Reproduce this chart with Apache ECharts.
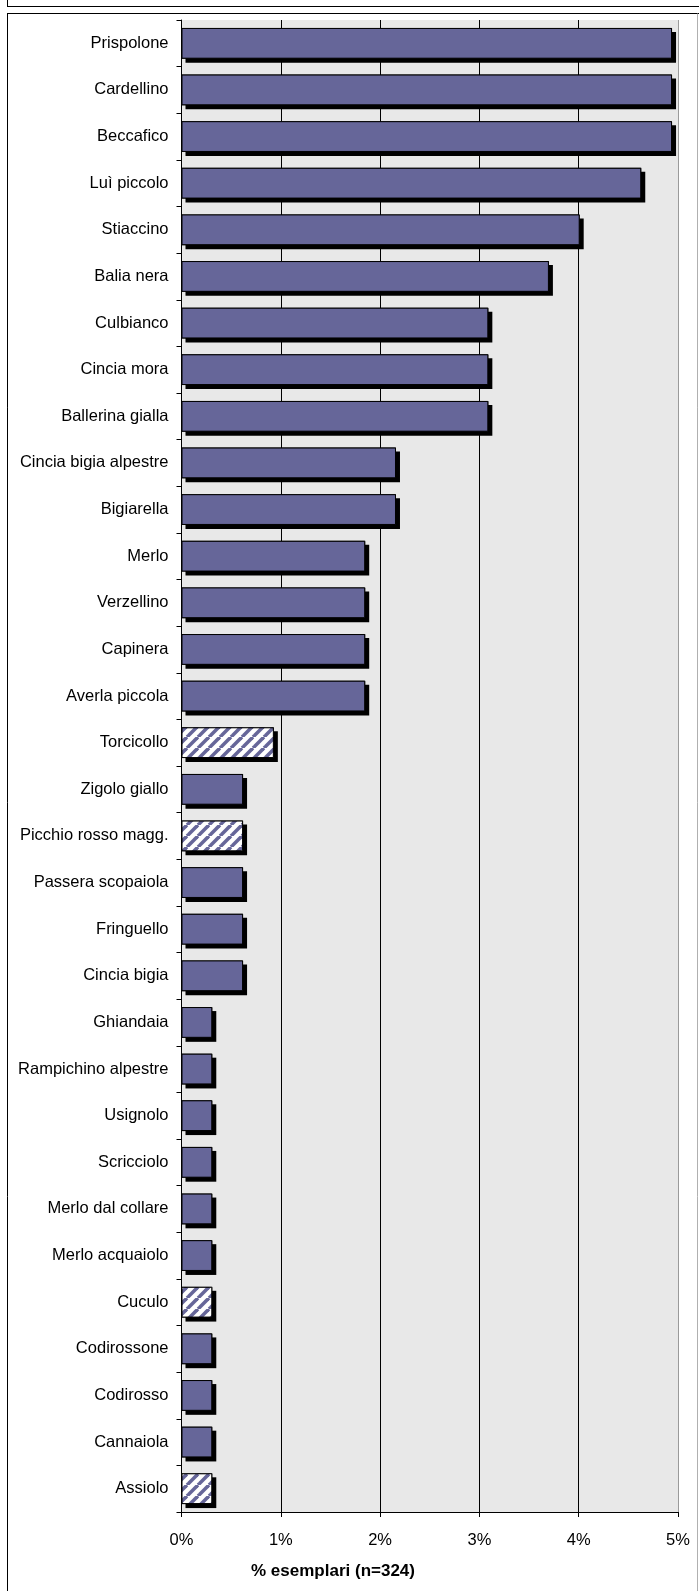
<!DOCTYPE html>
<html>
<head>
<meta charset="utf-8">
<script src="https://cdn.jsdelivr.net/npm/echarts@6/dist/echarts.min.js"></script>
<style>
html,body{margin:0;padding:0;background:#fff;}
#chart{width:699px;height:1591px;}
</style>
</head>
<body>
<div id="chart"></div>
<script>
var categories = ['Prispolone','Cardellino','Beccafico','Luì piccolo','Stiaccino','Balia nera','Culbianco','Cincia mora','Ballerina gialla','Cincia bigia alpestre','Bigiarella','Merlo','Verzellino','Capinera','Averla piccola','Torcicollo','Zigolo giallo','Picchio rosso magg.','Passera scopaiola','Fringuello','Cincia bigia','Ghiandaia','Rampichino alpestre','Usignolo','Scricciolo','Merlo dal collare','Merlo acquaiolo','Cuculo','Codirossone','Codirosso','Cannaiola','Assiolo'];
var percentValues = [4.94,4.94,4.94,4.63,4.01,3.70,3.09,3.09,3.09,2.16,2.16,1.85,1.85,1.85,1.85,0.93,0.62,0.62,0.62,0.62,0.62,0.31,0.31,0.31,0.31,0.31,0.31,0.31,0.31,0.31,0.31,0.31];
var hatchedCategories = ['Torcicollo','Picchio rosso magg.','Cuculo','Assiolo'];
var xTickLabels = ['0%','1%','2%','3%','4%','5%'];
var axisTitle = '% esemplari (n=324)';

var BAR = '#666699';
function makeHatch(){
  var w = 11;
  var c = document.createElement('canvas');
  c.width = w; c.height = w;
  var ctx = c.getContext('2d');
  ctx.fillStyle = '#ffffff';
  ctx.fillRect(0,0,w,w);
  ctx.strokeStyle = BAR;
  ctx.lineWidth = 3.6;
  for (var k=-1;k<=1;k++){
    ctx.beginPath();
    ctx.moveTo(k*w, w);
    ctx.lineTo(k*w + w, 0);
    ctx.stroke();
  }
  return c;
}
var hatch = makeHatch();

var seriesData = categories.map(function(name,i){
  var isH = hatchedCategories.indexOf(name) >= 0;
  return {
    value: percentValues[i],
    itemStyle: { color: isH ? {image: hatch, repeat: 'repeat'} : BAR }
  };
});

var chart = echarts.init(document.getElementById('chart'), null, {renderer:'canvas'});
var FONT = '"Liberation Sans", Arial, sans-serif';
chart.setOption({
  animation:false,
  backgroundColor:'#ffffff',
  grid:{left:181.5, top:20, right:21, bottom:79, show:true, backgroundColor:'#e8e8e8', borderWidth:0},
  xAxis:{
    type:'value', min:0, max:5, interval:1,
    axisLine:{show:true, lineStyle:{color:'#000', width:1}},
    axisTick:{show:true, length:5, lineStyle:{color:'#000'}},
    axisLabel:{
      color:'#000', fontFamily:FONT, fontSize:16.5, margin:20,
      formatter:function(v){ return xTickLabels[Math.round(v)]; }
    },
    splitLine:{show:true, lineStyle:{color:['#000','#000','#000','#000','#000','#9a9a9a'], width:1}}
  },
  yAxis:{
    type:'category', data:categories, inverse:true,
    axisLine:{show:true, lineStyle:{color:'#000', width:1}},
    axisTick:{show:true, length:5, lineStyle:{color:'#000'}},
    axisLabel:{color:'#000', fontFamily:FONT, fontSize:16.5, margin:13}
  },
  series:[
    {
      type:'bar',
      name:'shadow',
      data:percentValues,
      barCategoryGap:'34%',
      barGap:'-100%',
      silent:true,
      itemStyle:{
        color:'#000', borderWidth:0,
        shadowColor:'#000', shadowBlur:0, shadowOffsetX:4, shadowOffsetY:4
      }
    },
    {
      type:'bar',
      name:'value',
      data:seriesData,
      barCategoryGap:'34%',
      barGap:'-100%',
      itemStyle:{ borderColor:'#000', borderWidth:1 }
    }
  ],
  graphic:[
    {type:'line', silent:true, shape:{x1:7,y1:6.5,x2:699,y2:6.5}, style:{stroke:'#000',lineWidth:1}},
    {type:'line', silent:true, shape:{x1:7.5,y1:0,x2:7.5,y2:6.5}, style:{stroke:'#000',lineWidth:1}},
    {type:'line', silent:true, shape:{x1:7,y1:13.5,x2:699,y2:13.5}, style:{stroke:'#000',lineWidth:1}},
    {type:'line', silent:true, shape:{x1:7.5,y1:13.5,x2:7.5,y2:1591}, style:{stroke:'#000',lineWidth:1}},
    {type:'line', silent:true, shape:{x1:697.5,y1:13.5,x2:697.5,y2:1591}, style:{stroke:'#b0b0b0',lineWidth:1}},
    {type:'text', silent:true, x:333, y:1571, style:{text:axisTitle, fill:'#000', font:'bold 17px "Liberation Sans", Arial, sans-serif', textAlign:'center', textVerticalAlign:'middle'}}
  ]
});
</script>
</body>
</html>
